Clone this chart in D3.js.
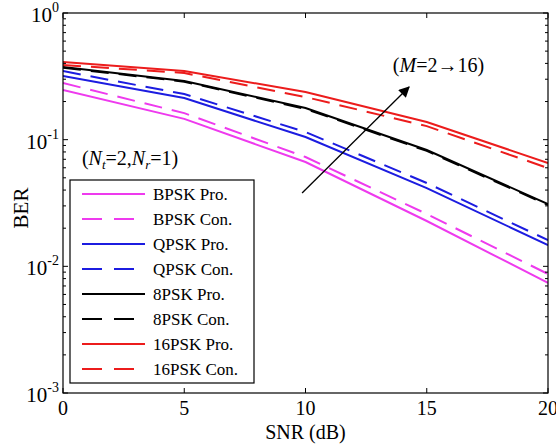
<!DOCTYPE html>
<html>
<head>
<meta charset="utf-8">
<script src="https://cdn.jsdelivr.net/npm/d3@7"></script>
<style>
  body { margin: 0; background: #fff; }
  svg { display: block; font-family: "Liberation Serif", "Times New Roman", serif; }
</style>
</head>
<body>
<svg id="chart" width="556" height="446"></svg>
<script>
// SNR points (dB)
const snr = [0, 5, 10, 15, 20];

// BER
const bpskPro  = [0.247, 0.146, 0.0666, 0.0228, 0.0074];
const bpskCon  = [0.280, 0.162, 0.0730, 0.0259, 0.0087];
const qpskPro  = [0.318, 0.213, 0.105, 0.0415, 0.0147];
const qpskCon  = [0.348, 0.229, 0.115, 0.0455, 0.0161];
const psk8Pro  = [0.375, 0.290, 0.178, 0.0829, 0.0310];
const psk8Con  = [0.370, 0.287, 0.175, 0.0815, 0.0305];
const psk16Pro = [0.410, 0.348, 0.238, 0.138, 0.0654];
const psk16Con = [0.389, 0.336, 0.217, 0.128, 0.0597];

const xTicks = [0, 5, 10, 15, 20];
const yTicks = [1e-3, 1e-2, 1e-1, 1];
const yExp = ['-3', '-2', '-1', '0'];

const series = [
  { name: 'BPSK Pro.',  values: bpskPro,  color: '#ee3aee', dash: null },
  { name: 'BPSK Con.',  values: bpskCon,  color: '#ee3aee', dash: '18,10' },
  { name: 'QPSK Pro.',  values: qpskPro,  color: '#1c1ce0', dash: null },
  { name: 'QPSK Con.',  values: qpskCon,  color: '#1c1ce0', dash: '18,10' },
  { name: '8PSK Pro.',  values: psk8Pro,  color: '#000000', dash: null },
  { name: '8PSK Con.',  values: psk8Con,  color: '#000000', dash: '18,10' },
  { name: '16PSK Pro.', values: psk16Pro, color: '#ec1c1c', dash: null },
  { name: '16PSK Con.', values: psk16Con, color: '#ec1c1c', dash: '18,10' }
];

const svg = d3.select('#chart');

const plotLeft = 63, plotRight = 548, plotTop = 13, plotBottom = 393;

const x = d3.scaleLinear().domain([0, 20]).range([plotLeft, plotRight]);
const y = d3.scaleLog().domain([1e-3, 1]).range([plotBottom, plotTop]);

// curves
const line = d3.line()
  .x((d, i) => x(snr[i]))
  .y(d => y(d));

const plot = svg.append('g');
plot.append('clipPath').attr('id', 'clip')
  .append('rect')
  .attr('x', plotLeft).attr('y', plotTop)
  .attr('width', plotRight - plotLeft).attr('height', plotBottom - plotTop);

series.forEach(s => {
  plot.append('path')
    .attr('d', line(s.values))
    .attr('fill', 'none')
    .attr('stroke', s.color)
    .attr('stroke-width', 2)
    .attr('stroke-dasharray', s.dash)
    .attr('clip-path', 'url(#clip)');
});

// box
svg.append('rect')
  .attr('x', plotLeft).attr('y', plotTop)
  .attr('width', plotRight - plotLeft).attr('height', plotBottom - plotTop)
  .attr('fill', 'none')
  .attr('stroke', '#000')
  .attr('stroke-width', 1.2);

// x ticks (inside, bottom and top)
xTicks.forEach(t => {
  svg.append('line')
    .attr('x1', x(t)).attr('x2', x(t))
    .attr('y1', plotBottom).attr('y2', plotBottom - 5)
    .attr('stroke', '#000');
  svg.append('line')
    .attr('x1', x(t)).attr('x2', x(t))
    .attr('y1', plotTop).attr('y2', plotTop + 5)
    .attr('stroke', '#000');
  svg.append('text')
    .attr('x', x(t))
    .attr('y', plotBottom + 22)
    .attr('text-anchor', 'middle')
    .attr('font-size', 20)
    .text(t);
});

// y ticks (major + minor, left and right)
yTicks.forEach((t, i) => {
  svg.append('line')
    .attr('x1', plotLeft).attr('x2', plotLeft + 5)
    .attr('y1', y(t)).attr('y2', y(t))
    .attr('stroke', '#000');
  svg.append('line')
    .attr('x1', plotRight).attr('x2', plotRight - 5)
    .attr('y1', y(t)).attr('y2', y(t))
    .attr('stroke', '#000');

  const label = svg.append('text')
    .attr('x', 59)
    .attr('y', y(t) + 9)
    .attr('text-anchor', 'end')
    .attr('font-size', 21);
  label.append('tspan').text('10');
  label.append('tspan')
    .attr('dy', -10)
    .attr('font-size', 14)
    .text(yExp[i]);

  if (t < 1) {
    for (let m = 2; m <= 9; m++) {
      const v = t * m;
      svg.append('line')
        .attr('x1', plotLeft).attr('x2', plotLeft + 3)
        .attr('y1', y(v)).attr('y2', y(v))
        .attr('stroke', '#000');
      svg.append('line')
        .attr('x1', plotRight).attr('x2', plotRight - 3)
        .attr('y1', y(v)).attr('y2', y(v))
        .attr('stroke', '#000');
    }
  }
});

// axis titles
svg.append('text')
  .attr('x', x(10))
  .attr('y', 439)
  .attr('text-anchor', 'middle')
  .attr('font-size', 20)
  .text('SNR (dB)');

svg.append('text')
  .attr('transform', `translate(28, 208) rotate(-90)`)
  .attr('text-anchor', 'middle')
  .attr('font-size', 21)
  .text('BER');

// annotation (Nt=2,Nr=1)
const nt = svg.append('text')
  .attr('x', x(0.78))
  .attr('y', y(0.063))
  .attr('font-size', 20);
nt.append('tspan').text('(');
nt.append('tspan').attr('font-style', 'italic').text('N');
nt.append('tspan').attr('font-style', 'italic').attr('font-size', 13).attr('dy', 4).text('t');
nt.append('tspan').attr('dy', -4).text('=2,');
nt.append('tspan').attr('font-style', 'italic').text('N');
nt.append('tspan').attr('font-style', 'italic').attr('font-size', 13).attr('dy', 4).text('r');
nt.append('tspan').attr('dy', -4).text('=1)');

// annotation (M=2→16) with arrow
const mt = svg.append('text')
  .attr('x', x(13.6))
  .attr('y', y(0.342))
  .attr('font-size', 20);
mt.append('tspan').text('(');
mt.append('tspan').attr('font-style', 'italic').text('M');
mt.append('tspan').text('=2\u219216)');

svg.append('defs').append('marker')
  .attr('id', 'head')
  .attr('viewBox', '0 0 10 10')
  .attr('refX', 9).attr('refY', 5)
  .attr('markerWidth', 12).attr('markerHeight', 11)
  .attr('markerUnits', 'userSpaceOnUse')
  .attr('orient', 'auto')
  .append('path')
  .attr('d', 'M0,0 L10,5 L0,10 Z')
  .attr('fill', '#000');

svg.append('line')
  .attr('x1', x(9.86)).attr('y1', y(0.0379))
  .attr('x2', x(14.27)).attr('y2', y(0.2606))
  .attr('stroke', '#000')
  .attr('stroke-width', 1.3)
  .attr('marker-end', 'url(#head)');

// legend
const lg = svg.append('g');
lg.append('rect')
  .attr('x', 70).attr('y', 180)
  .attr('width', 184).attr('height', 203)
  .attr('fill', '#fff')
  .attr('stroke', '#000')
  .attr('stroke-width', 1.2);

series.forEach((s, i) => {
  const ly = 194 + i * 25;
  lg.append('line')
    .attr('x1', 82).attr('x2', 145)
    .attr('y1', ly).attr('y2', ly)
    .attr('stroke', s.color)
    .attr('stroke-width', 2)
    .attr('stroke-dasharray', s.dash ? '20,12' : null);
  lg.append('text')
    .attr('x', 153)
    .attr('y', ly + 6)
    .attr('font-size', 17)
    .text(s.name);
});
</script>
</body>
</html>
